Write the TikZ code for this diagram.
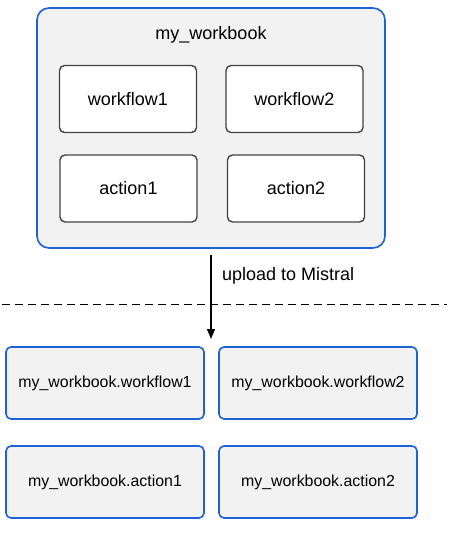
\documentclass[tikz,border=0pt]{standalone}
\usepackage{fontspec}
\setmainfont{Liberation Sans}
\usetikzlibrary{arrows.meta}
\definecolor{bblue}{HTML}{1F62D6}
\definecolor{lgray}{HTML}{F2F2F2}
\definecolor{dgray}{HTML}{444444}
\begin{document}
\begin{tikzpicture}[x=1pt,y=-1pt,
  outerbox/.style={draw=bblue,line width=1.6pt,fill=lgray,rounded corners=12pt,minimum width=348pt,minimum height=240pt,inner sep=0pt},
  innerbox/.style={draw=dgray,line width=1.4pt,fill=white,rounded corners=5pt,minimum width=137pt,minimum height=67pt,inner sep=0pt,font=\fontsize{18}{22}\selectfont},
  lowbox/.style={draw=bblue,line width=1.6pt,fill=lgray,rounded corners=5pt,minimum width=198pt,minimum height=72pt,inner sep=0pt,font=\fontsize{15.9}{19}\selectfont},
  lbl/.style={font=\fontsize{18}{22}\selectfont,inner sep=0pt}]
\useasboundingbox (0,0) rectangle (452,534);
\node[outerbox] (outer) at (211,128) {};
\node[lbl] (title) at (211,35) {my\_workbook};
\node[innerbox] (wf1) at (128,99) {workflow1};
\node[innerbox] (wf2) at (294.5,99) {workflow2};
\node[innerbox] (ac1) at (128.5,188.5) {action1};
\node[innerbox] (ac2) at (296,188.5) {action2};
\coordinate (astart) at (211,255);
\coordinate (aend) at (211,339);
\draw[line width=1.3pt,-{Triangle[length=10pt,width=8pt]}] (astart) -- (aend);
\node[lbl,anchor=west] (up) at (222,276) {upload to Mistral};
\coordinate (dl) at (2,304);
\coordinate (dr) at (447,304);
\draw[line width=0.8pt,dash pattern=on 8pt off 5pt] (dl) -- (dr);
\node[lowbox] (bwf1) at (105,383) {my\_workbook.workflow1};
\node[lowbox] (bwf2) at (318,383) {my\_workbook.workflow2};
\node[lowbox] (bac1) at (105,482) {my\_workbook.action1};
\node[lowbox] (bac2) at (318,482) {my\_workbook.action2};
\end{tikzpicture}
\end{document}
